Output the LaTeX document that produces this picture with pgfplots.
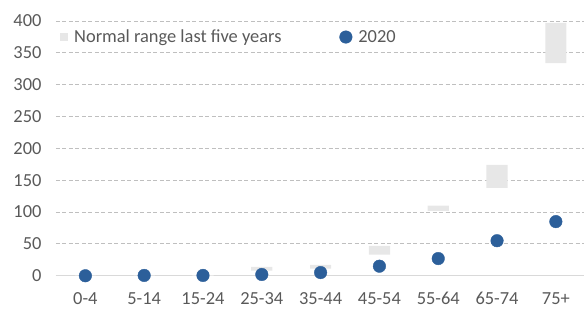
\documentclass[border=0pt]{standalone}
\usepackage{pgfplots}
\pgfplotsset{compat=1.18}
\usepackage{fontspec}
\setmainfont{Carlito}
\definecolor{txt}{HTML}{595959}
\definecolor{grid}{HTML}{D9D9D9}
\definecolor{rng}{HTML}{E7E7E7}
\definecolor{dot}{HTML}{2C5F9A}
\begin{document}
\begin{tikzpicture}
\begin{axis}[
  scale only axis, width=528bp, height=255bp,
  xmin=-0.5, xmax=8.47, ymin=0, ymax=400,
  ytick={0,50,...,400},
  xtick={0,...,8},
  xticklabels={0-4,5-14,15-24,25-34,35-44,45-54,55-64,65-74,75+},
  axis x line*=bottom, axis y line*=left,
  x axis line style={grid, line width=1pt, -},
  y axis line style={draw=none},
  ymajorgrids=true, xmajorgrids=false,
  major grid style={grid, dash pattern=on 4bp off 2.5bp, line width=0.9pt},
  major tick length=0pt,
  tick label style={font=\fontsize{18.5}{22}\selectfont, text=txt},
  yticklabel style={xshift=-11bp},
  xticklabel style={yshift=-13bp},
  clip=false,
  legend style={at={(0.008,0.937)}, anchor=west, draw=none, fill=none,
    font=\fontsize{18.5}{22}\selectfont, text=txt, legend columns=2,
    inner sep=0pt, outer sep=0pt,
    /tikz/every odd column/.append style={column sep=4bp},
    /tikz/every even column/.append style={column sep=56bp}},
  legend cell align=left,
  /pgf/number format/assume math mode=true,
]
% lower bound (invisible)
\addplot[ybar, stack plots=y, bar width=0.36, draw=none, fill=none, forget plot]
  coordinates {(0,0) (1,0) (2,0) (3,8) (4,11) (5,33) (6,102) (7,138) (8,334)};
% range
\addplot[ybar, stack plots=y, bar width=0.36, draw=none, fill=rng,
  legend image code/.code={\fill[rng] (0bp,-4bp) rectangle (8bp,4bp);}]
  coordinates {(0,0.5) (1,0.5) (2,1) (3,6) (4,6) (5,14) (6,8) (7,36) (8,63)};
\addlegendentry{Normal range last five years}
\addplot[stack plots=false, only marks, mark=*, mark size=6.3bp, mark options={fill=dot, draw=dot},
  legend image code/.code={\fill[dot] (6.3bp,0bp) circle[radius=6.3bp];}]
  coordinates {(0,0) (1,0.5) (2,0.5) (3,2) (4,5) (5,15) (6,27) (7,55) (8,85)};
\addlegendentry{2020}
\end{axis}
\path (current axis.south west) ++(-56bp,-34bp) (current axis.north east) ++(0bp,21bp);
\end{tikzpicture}
\end{document}
